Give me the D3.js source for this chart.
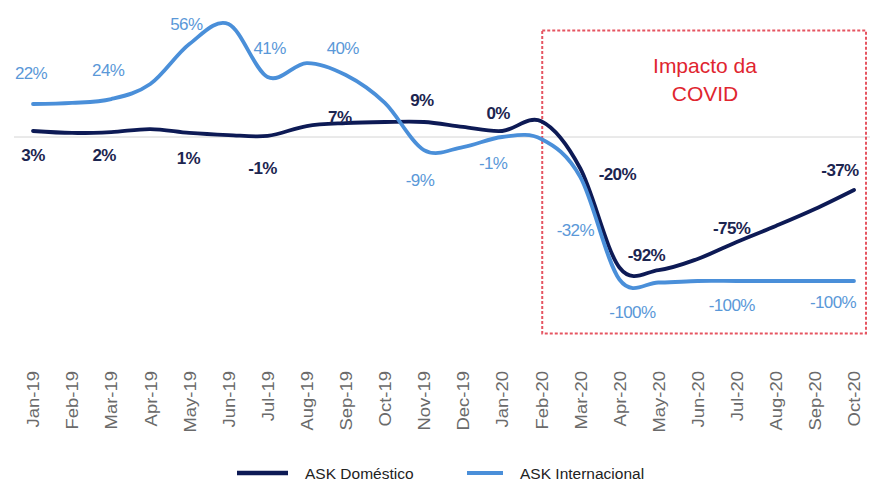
<!DOCTYPE html>
<html>
<head>
<meta charset="utf-8">
<script src="https://cdn.jsdelivr.net/npm/d3@7"></script>
<style>
  html, body { margin: 0; padding: 0; background: #fff; }
  svg { display: block; font-family: "Liberation Sans", Arial, sans-serif; }
</style>
</head>
<body>
<svg id="chart" width="870" height="485"></svg>
<script>
// ---------------- data ----------------
const months = ["Jan-19","Feb-19","Mar-19","Apr-19","May-19","Jun-19","Jul-19","Aug-19","Sep-19","Oct-19","Nov-19","Dec-19",
                "Jan-20","Feb-20","Mar-20","Apr-20","May-20","Jun-20","Jul-20","Aug-20","Sep-20","Oct-20"];

// plotted line values
const askDomestico = [4, 2.7, 3.3, 5.3, 2.7, 1.3, 0.7, 7.3, 9.3, 10, 10, 6.7,
                      4, 10.5, -21, -87, -88.7, -81.3, -70, -59.3, -48, -35.3];
const askInternacional = [22, 22.7, 25.3, 35.3, 62, 75.3, 40, 49.3, 41.3, 22.7, -8.7, -6.7,
                          0, -1.3, -26.7, -95, -97, -96, -96, -96, -96, -96];

// data labels
const domLabelMonths = ["Jan-19","Mar-19","May-19","Jul-19","Sep-19","Nov-19","Jan-20","Mar-20","Apr-20","Jul-20","Oct-20"];
const domLabelTexts  = ["3%","2%","1%","-1%","7%","9%","0%","-20%","-92%","-75%","-37%"];
const intLabelMonths = ["Jan-19","Mar-19","May-19","Jul-19","Sep-19","Nov-19","Jan-20","Mar-20","Apr-20","Jul-20","Oct-20"];
const intLabelTexts  = ["22%","24%","56%","41%","40%","-9%","-1%","-32%","-100%","-100%","-100%"];

const seriesNames = ["ASK Doméstico","ASK Internacional"];
const annotationLines = ["Impacto da","COVID"];
const covidStart = "Feb-20";

// ---------------- layout (offsets from the point on the line) ----------------
const domLabelOffsets = [[0,24],[-7,23],[-1,25],[-5,32],[-6,-6],[-2,-22],[-4,-18],[37,6],[27,-12],[-5,-14],[-14,-20]];
const intLabelOffsets = [[-2,-31],[-3,-29],[-3,-20],[2,-29],[-3,-27],[-4,30],[-9,26],[-5,53],[13,33],[-5,24],[-21,21]];

const colDom = "#0d1a55";
const colInt = "#4a8fd9";
const colIntLabel = "#5a98d8";
const colDomLabel = "#1c2550";
const colRed = "#e0252f";

const svg = d3.select("#chart");
svg.append("rect").attr("width", 870).attr("height", 485).attr("fill", "#fff");

const x = d3.scalePoint().domain(months).range([33, 854]);
const y = d3.scaleLinear().domain([-100, 60]).range([287, 47]);

// zero line
svg.append("line")
  .attr("x1", 14).attr("x2", 870)
  .attr("y1", y(0)).attr("y2", y(0))
  .attr("stroke", "#d4d4d4").attr("stroke-width", 1);

// COVID box
const boxLeft = x(covidStart) + 1;
svg.append("rect")
  .attr("x", boxLeft).attr("y", y(71))
  .attr("width", 866 - boxLeft).attr("height", y(-131) - y(71))
  .attr("fill", "none")
  .attr("stroke", "#e65461").attr("stroke-width", 2)
  .attr("stroke-dasharray", "3,2");

svg.append("g").selectAll("text").data(annotationLines).join("text")
  .attr("x", 705).attr("y", (d, i) => 66 + i * 28)
  .attr("dy", "0.35em")
  .attr("text-anchor", "middle")
  .attr("font-size", 21)
  .attr("fill", colRed)
  .text(d => d);

// lines
const line = d3.line()
  .x((d, i) => x(months[i]))
  .y(d => y(d))
  .curve(d3.curveCardinal.tension(0));

svg.append("path").datum(askDomestico)
  .attr("d", line).attr("fill", "none")
  .attr("stroke", colDom).attr("stroke-width", 3.8)
  .attr("stroke-linecap", "round");

svg.append("path").datum(askInternacional)
  .attr("d", line).attr("fill", "none")
  .attr("stroke", colInt).attr("stroke-width", 3.8)
  .attr("stroke-linecap", "round");

// data labels
function valueAt(series, m) { return series[months.indexOf(m)]; }

svg.append("g").selectAll("text").data(intLabelTexts).join("text")
  .attr("x", (d, i) => x(intLabelMonths[i]) + intLabelOffsets[i][0])
  .attr("y", (d, i) => y(valueAt(askInternacional, intLabelMonths[i])) + intLabelOffsets[i][1])
  .attr("dy", "0.35em")
  .attr("text-anchor", "middle")
  .attr("font-size", 17)
  .attr("letter-spacing", -0.6)
  .attr("fill", colIntLabel)
  .text(d => d);

svg.append("g").selectAll("text").data(domLabelTexts).join("text")
  .attr("x", (d, i) => x(domLabelMonths[i]) + domLabelOffsets[i][0])
  .attr("y", (d, i) => y(valueAt(askDomestico, domLabelMonths[i])) + domLabelOffsets[i][1])
  .attr("dy", "0.35em")
  .attr("text-anchor", "middle")
  .attr("font-size", 17)
  .attr("font-weight", "bold")
  .attr("letter-spacing", -0.6)
  .attr("fill", colDomLabel)
  .text(d => d);

// x axis labels (rotated)
const xAxis = d3.axisBottom(x).tickSize(0).tickPadding(0);
const gx = svg.append("g").attr("transform", "translate(0,371)").call(xAxis);
gx.select(".domain").remove();
gx.selectAll(".tick text")
  .attr("transform", "rotate(-90) scale(1.12,1)")
  .attr("text-anchor", "end")
  .attr("x", 0).attr("y", 0).attr("dy", "0.35em")
  .attr("font-family", "Liberation Sans, Arial, sans-serif")
  .attr("font-size", 16.5)
  .attr("fill", "#6a6a6a");

// legend
const legend = [
  { name: seriesNames[0], color: colDom, x1: 237, x2: 288, tx: 305, w: 4.5 },
  { name: seriesNames[1], color: colInt, x1: 467, x2: 503, tx: 520, w: 4 }
];
const lg = svg.append("g");
legend.forEach(l => {
  lg.append("line").attr("x1", l.x1).attr("x2", l.x2).attr("y1", 473).attr("y2", 473)
    .attr("stroke", l.color).attr("stroke-width", l.w);
  lg.append("text").attr("x", l.tx).attr("y", 474).attr("dy", "0.35em")
    .attr("font-size", 15.5).attr("fill", "#222").text(l.name);
});
</script>
</body>
</html>
